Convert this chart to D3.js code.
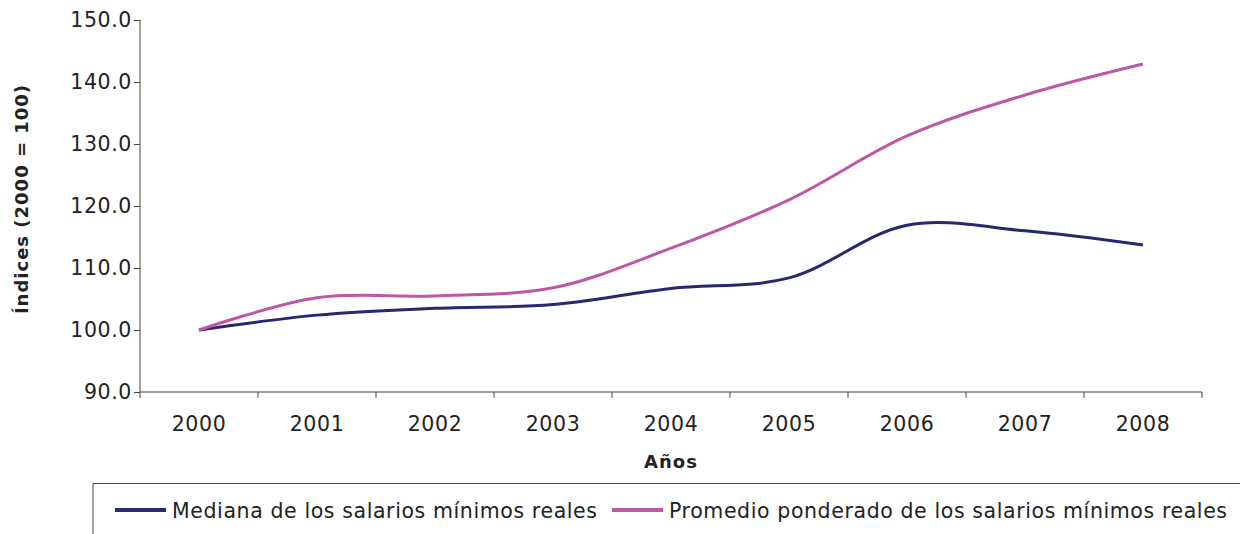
<!DOCTYPE html>
<html>
<head>
<meta charset="utf-8">
<script src="https://cdn.jsdelivr.net/npm/d3@7"></script>
<style>
  body { margin: 0; background: #fff; }
  svg text { font-family: "DejaVu Sans", Verdana, sans-serif; fill: #222; }
  .domain, .tick line { stroke: #444; }
</style>
</head>
<body>
<div id="chart"></div>
<script>
const years = ["2000", "2001", "2002", "2003", "2004", "2005", "2006", "2007", "2008"];
const mediana = [100.0, 102.4, 103.5, 104.1, 106.7, 108.4, 116.9, 116.0, 113.7];
const promedio = [100.0, 105.2, 105.5, 106.8, 113.2, 121.0, 131.3, 137.9, 142.9];
const yTicks = [90, 100, 110, 120, 130, 140, 150];
const seriesNames = ["Mediana de los salarios mínimos reales", "Promedio ponderado de los salarios mínimos reales"];
const colors = ["#27286f", "#bd57a6"];

const W = 1240, H = 534;
const svg = d3.select("#chart").append("svg")
  .attr("width", W)
  .attr("height", H);

const x = d3.scaleBand().domain(years).range([140, 1202]);
const y = d3.scaleLinear().domain([90, 150]).range([392, 20]);

// y axis
svg.append("g")
  .attr("transform", "translate(140,0)")
  .call(d3.axisLeft(y).tickValues(yTicks).tickFormat(d3.format(".1f")).tickSize(6).tickPadding(2))
  .call(g => g.selectAll("text").style("font-size", "20.5px").style("letter-spacing", "0.6px"))
  .call(g => g.select(".domain").attr("d", `M0,${y(150)}V${y(90)}`));

// x axis, ticks between categories
const xAxis = svg.append("g")
  .attr("transform", `translate(0,${y(90)})`)
  .call(d3.axisBottom(x).tickSize(0).tickPadding(24))
  .call(g => g.selectAll("text").style("font-size", "20.5px").style("letter-spacing", "0.6px"))
  .call(g => g.select(".domain").attr("d", `M${x.range()[0]},0H${x.range()[1]}`));

const bounds = years.map(d => x(d)).concat([x(years[years.length - 1]) + x.bandwidth()]);
xAxis.selectAll(".bound")
  .data(bounds)
  .enter()
  .append("line")
  .attr("x1", d => d).attr("x2", d => d)
  .attr("y1", 0).attr("y2", 6)
  .attr("stroke", "#444");

// lines
const line = d3.line()
  .x((d, i) => x(years[i]) + x.bandwidth() / 2)
  .y(d => y(d))
  .curve(d3.curveCatmullRom.alpha(0.5));

[mediana, promedio].forEach((s, i) => {
  svg.append("path")
    .datum(s)
    .attr("fill", "none")
    .attr("stroke", colors[i])
    .attr("stroke-width", 3)
    .attr("d", line);
});

// axis titles
svg.append("text")
  .attr("x", x.range()[0] + (x.range()[1] - x.range()[0]) / 2)
  .attr("y", 468)
  .attr("text-anchor", "middle")
  .style("font-size", "18px")
  .style("letter-spacing", "1px")
  .style("font-weight", "bold")
  .text("Años");

svg.append("text")
  .attr("transform", "rotate(-90)")
  .attr("x", -199)
  .attr("y", 28)
  .attr("text-anchor", "middle")
  .style("font-size", "18px")
  .style("letter-spacing", "1px")
  .style("font-weight", "bold")
  .text("Índices (2000 = 100)");

// legend
svg.append("path")
  .attr("d", "M93,534V483.5H1245")
  .attr("fill", "none")
  .attr("stroke", "#444")
  .attr("stroke-width", 1);

const legendX = [115, 612];
seriesNames.forEach((name, i) => {
  const g = svg.append("g").attr("transform", `translate(${legendX[i]},510)`);
  g.append("line")
    .attr("x1", 0).attr("x2", 51)
    .attr("y1", 0).attr("y2", 0)
    .attr("stroke", colors[i])
    .attr("stroke-width", 4);
  g.append("text")
    .attr("x", 57)
    .attr("y", 8)
    .style("font-size", "20.5px")
    .style("letter-spacing", "0.6px")
    .text(name);
});
</script>
</body>
</html>
